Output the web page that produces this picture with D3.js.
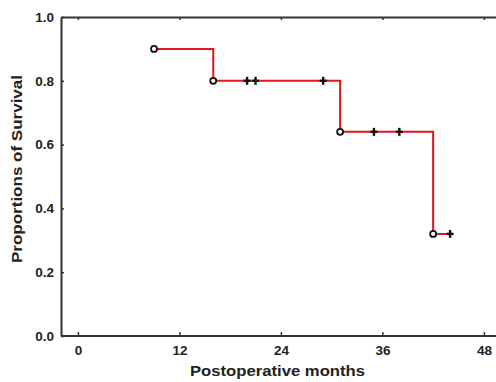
<!DOCTYPE html>
<html>
<head>
<meta charset="utf-8">
<script src="https://cdn.jsdelivr.net/npm/d3@7"></script>
<style>
  body { margin: 0; background: #fff; }
  svg { display: block; font-family: "Liberation Sans", Arial, sans-serif; }
  .axis text { font-size: 13.5px; font-weight: bold; fill: #222; }
  .axis path { stroke: #333; stroke-width: 2px; }
  .axis line { stroke: #333; stroke-width: 1.5px; }
</style>
</head>
<body>
<svg width="496" height="382"></svg>
<script>
// event times (months) and the survival proportion after each event
const eventTimes = [9, 16, 31, 42];
const survival = [0.9, 0.8, 0.64, 0.32];
// censored observations
const censorTimes = [20, 21, 29, 35, 38, 44];
const lastFollowUp = 44;

const xTicks = [0, 12, 24, 36, 48];
const yTicks = [0, 0.2, 0.4, 0.6, 0.8, 1.0];

const width = 496;
const height = 382;
const margin = { top: 17, left: 61, bottom: 46 };

const svg = d3.select("svg");

const x = d3.scaleLinear()
    .domain([-2, 50])
    .range([margin.left, margin.left + 52 * 8.458]);

const y = d3.scaleLinear()
    .domain([0, 1])
    .range([height - margin.bottom, margin.top]);

// bottom axis, ticks point inward
svg.append("g")
    .attr("class", "axis")
    .attr("transform", `translate(0,${y(0)})`)
    .call(d3.axisBottom(x).tickValues(xTicks).tickSizeInner(-4).tickSizeOuter(0).tickPadding(9))
    .call(g => g.select(".domain").attr("d", `M${x.range()[0]},0H${x.range()[1]}`));

// top frame line
svg.append("g")
    .attr("class", "axis")
    .attr("transform", `translate(0,${y(1)})`)
    .call(d3.axisTop(x).tickValues(xTicks).tickSizeInner(-3).tickSizeOuter(0).tickFormat(""));

// left axis
svg.append("g")
    .attr("class", "axis")
    .attr("transform", `translate(${x(-2)},0)`)
    .call(d3.axisLeft(y).tickValues(yTicks).tickSizeInner(-3).tickSizeOuter(0)
        .tickPadding(7).tickFormat(d3.format(".1f")));

// survival curve
const steps = eventTimes.map((t, i) => [t, survival[i]]);
steps.push([lastFollowUp, survival[survival.length - 1]]);

svg.append("path")
    .datum(steps)
    .attr("fill", "none")
    .attr("stroke", "#e3161e")
    .attr("stroke-width", 2)
    .attr("d", d3.line().x(d => x(d[0])).y(d => y(d[1])).curve(d3.curveStepAfter));

function survAt(t) {
    let s = 1;
    eventTimes.forEach((e, i) => { if (e <= t) s = survival[i]; });
    return s;
}

// censor marks
const cross = svg.append("g").attr("stroke", "#111").attr("stroke-width", 2.4);
censorTimes.forEach(t => {
    const cx = x(t), cy = y(survAt(t));
    cross.append("line").attr("x1", cx).attr("x2", cx).attr("y1", cy - 4).attr("y2", cy + 4);
    cross.append("line").attr("x1", cx - 3.5).attr("x2", cx + 3.5).attr("y1", cy).attr("y2", cy);
});

// event markers
svg.append("g")
    .selectAll("circle")
    .data(steps.slice(0, eventTimes.length))
    .join("circle")
    .attr("cx", d => x(d[0]))
    .attr("cy", d => y(d[1]))
    .attr("r", 3)
    .attr("fill", "#fff")
    .attr("stroke", "#111")
    .attr("stroke-width", 1.8);

// axis titles
svg.append("text")
    .attr("x", 277.5)
    .attr("y", 376)
    .attr("text-anchor", "middle")
    .attr("font-size", 15)
    .attr("font-weight", "bold")
    .attr("fill", "#222")
    .attr("textLength", 175)
    .attr("lengthAdjust", "spacingAndGlyphs")
    .text("Postoperative months");

svg.append("text")
    .attr("transform", "translate(22,169) rotate(-90)")
    .attr("text-anchor", "middle")
    .attr("font-size", 15)
    .attr("font-weight", "bold")
    .attr("fill", "#222")
    .attr("textLength", 188)
    .attr("lengthAdjust", "spacingAndGlyphs")
    .text("Proportions of Survival");
</script>
</body>
</html>
